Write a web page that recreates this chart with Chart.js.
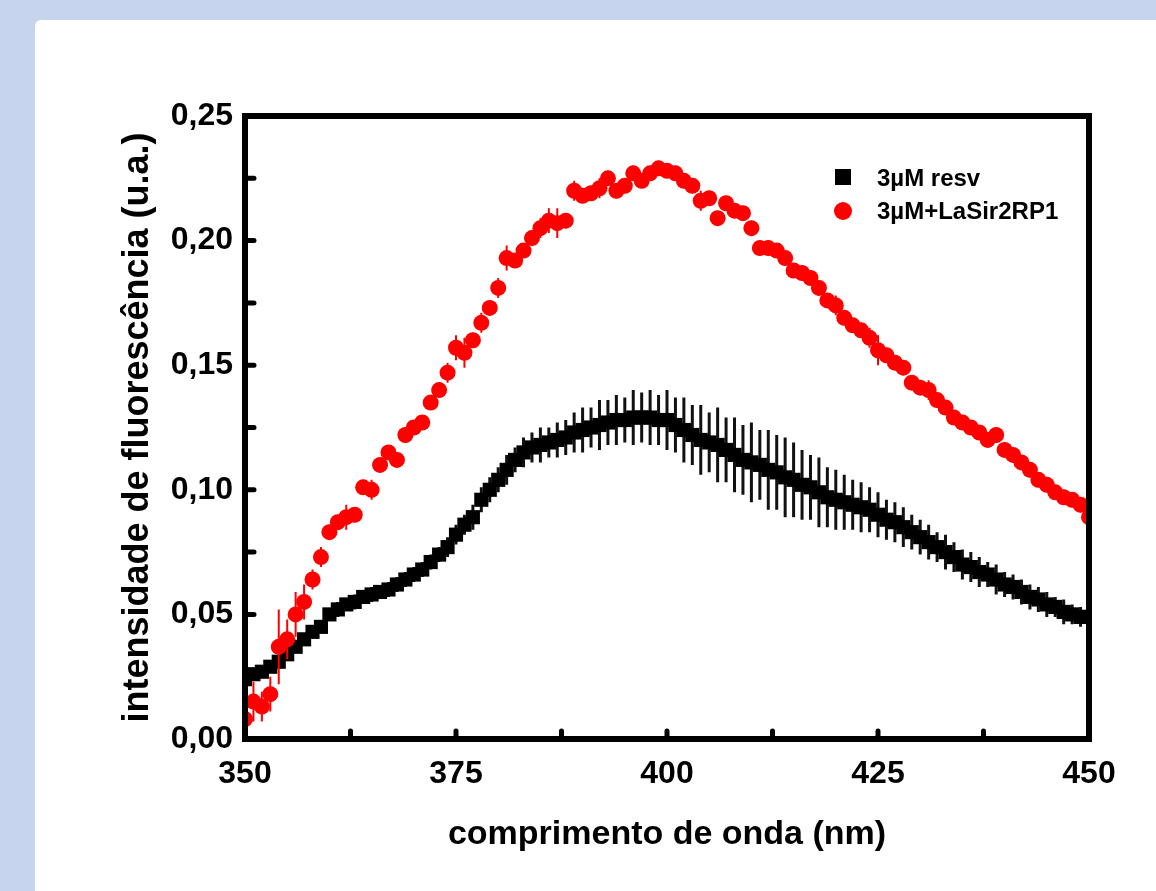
<!DOCTYPE html>
<html>
<head>
<meta charset="utf-8">
<script src="https://cdn.jsdelivr.net/npm/chart.js@4/dist/chart.umd.min.js"></script>
<style>
  html, body { margin: 0; padding: 0; }
  body { width: 1156px; height: 891px; background: #c6d4ed; position: relative; overflow: hidden; }
  #panel { position: absolute; left: 35px; top: 20px; width: 1130px; height: 880px; background: #fff; border-radius: 6px; }
  #chart { position: absolute; left: 0; top: 0; }
</style>
</head>
<body>
<div id="panel"></div>
<canvas id="chart" width="1156" height="891"></canvas>
<script>
// wavelength (nm), one reading per nm
const wavelengths = [
  350, 351, 352, 353, 354, 355, 356, 357, 358, 359,
  360, 361, 362, 363, 364, 365, 366, 367, 368, 369,
  370, 371, 372, 373, 374, 375, 376, 377, 378, 379,
  380, 381, 382, 383, 384, 385, 386, 387, 388, 389,
  390, 391, 392, 393, 394, 395, 396, 397, 398, 399,
  400, 401, 402, 403, 404, 405, 406, 407, 408, 409,
  410, 411, 412, 413, 414, 415, 416, 417, 418, 419,
  420, 421, 422, 423, 424, 425, 426, 427, 428, 429,
  430, 431, 432, 433, 434, 435, 436, 437, 438, 439,
  440, 441, 442, 443, 444, 445, 446, 447, 448, 449,
  450
]

// 3µM resv
const resv = [
  0.024, 0.026, 0.027, 0.029, 0.031, 0.034, 0.037, 0.040, 0.043, 0.045,
  0.050, 0.052, 0.054, 0.055, 0.057, 0.058, 0.059, 0.060, 0.062, 0.064,
  0.066, 0.068, 0.071, 0.074, 0.077, 0.082, 0.086, 0.089, 0.096, 0.100,
  0.104, 0.108, 0.112, 0.115, 0.117, 0.118, 0.119, 0.120, 0.121, 0.123,
  0.124, 0.125, 0.126, 0.127, 0.128, 0.128, 0.129, 0.129, 0.129, 0.128,
  0.128, 0.126, 0.124, 0.122, 0.120, 0.119, 0.118, 0.116, 0.114, 0.112,
  0.111, 0.110, 0.108, 0.107, 0.105, 0.104, 0.102, 0.101, 0.099, 0.097,
  0.096, 0.095, 0.094, 0.093, 0.092, 0.090, 0.088, 0.087, 0.085, 0.083,
  0.081, 0.079, 0.077, 0.075, 0.073, 0.070, 0.069, 0.067, 0.066, 0.064,
  0.062, 0.061, 0.059, 0.057, 0.056, 0.054, 0.053, 0.051, 0.050, 0.049,
  0.049
]
const resvErr = [
  0.002, 0.002, 0.002, 0.002, 0.002, 0.002, 0.002, 0.002, 0.002, 0.002,
  0.002, 0.003, 0.002, 0.003, 0.002, 0.003, 0.002, 0.003, 0.003, 0.003,
  0.003, 0.003, 0.003, 0.003, 0.004, 0.004, 0.004, 0.005, 0.005, 0.005,
  0.005, 0.006, 0.005, 0.006, 0.006, 0.007, 0.006, 0.007, 0.007, 0.008,
  0.009, 0.008, 0.010, 0.009, 0.010, 0.009, 0.011, 0.010, 0.011, 0.010,
  0.012, 0.011, 0.013, 0.012, 0.014, 0.012, 0.015, 0.013, 0.015, 0.014,
  0.016, 0.014, 0.016, 0.015, 0.016, 0.015, 0.014, 0.013, 0.014, 0.012,
  0.012, 0.011, 0.010, 0.010, 0.009, 0.009, 0.008, 0.008, 0.008, 0.007,
  0.007, 0.007, 0.006, 0.007, 0.006, 0.006, 0.006, 0.006, 0.005, 0.006,
  0.005, 0.005, 0.005, 0.005, 0.005, 0.005, 0.004, 0.005, 0.004, 0.004,
  0.004
]

// 3µM+LaSir2RP1
const resvSir = [
  0.008, 0.015, 0.013, 0.018, 0.037, 0.040, 0.050, 0.055, 0.064, 0.073,
  0.083, 0.087, 0.089, 0.090, 0.101, 0.100, 0.110, 0.115, 0.112, 0.122,
  0.125, 0.127, 0.135, 0.140, 0.147, 0.157, 0.155, 0.160, 0.167, 0.173,
  0.181, 0.193, 0.192, 0.196, 0.201, 0.205, 0.208, 0.207, 0.208, 0.220,
  0.218, 0.219, 0.221, 0.225, 0.220, 0.222, 0.227, 0.224, 0.227, 0.229,
  0.228, 0.227, 0.224, 0.222, 0.216, 0.217, 0.209, 0.215, 0.212, 0.211,
  0.205, 0.197, 0.197, 0.196, 0.193, 0.188, 0.187, 0.185, 0.181, 0.176,
  0.174, 0.169, 0.166, 0.164, 0.161, 0.156, 0.154, 0.151, 0.149, 0.143,
  0.141, 0.140, 0.136, 0.133, 0.129, 0.127, 0.125, 0.123, 0.120, 0.122,
  0.116, 0.114, 0.111, 0.108, 0.104, 0.102, 0.099, 0.097, 0.096, 0.094,
  0.089
]
const resvSirErr = [
  0.010, 0.008, 0.006, 0.007, 0.015, 0.008, 0.009, 0.007, 0.004, 0.004,
  0.003, 0.003, 0.005, 0.003, 0.003, 0.004, 0.003, 0.003, 0.003, 0.003,
  0.003, 0.003, 0.003, 0.003, 0.004, 0.005, 0.006, 0.003, 0.004, 0.003,
  0.004, 0.005, 0.003, 0.003, 0.003, 0.004, 0.005, 0.006, 0.003, 0.004,
  0.003, 0.003, 0.004, 0.003, 0.003, 0.003, 0.003, 0.003, 0.003, 0.003,
  0.003, 0.003, 0.003, 0.003, 0.004, 0.003, 0.003, 0.003, 0.003, 0.003,
  0.003, 0.003, 0.003, 0.003, 0.003, 0.003, 0.003, 0.003, 0.003, 0.003,
  0.004, 0.003, 0.003, 0.003, 0.004, 0.006, 0.003, 0.003, 0.003, 0.003,
  0.003, 0.004, 0.003, 0.003, 0.003, 0.003, 0.003, 0.003, 0.003, 0.003,
  0.003, 0.003, 0.003, 0.003, 0.003, 0.003, 0.003, 0.003, 0.003, 0.003,
  0.004
]

const seriesLabels = ['3µM resv', '3µM+LaSir2RP1']
const xTicks = [350, 375, 400, 425, 450]
const yTicks = [0, 0.05, 0.10, 0.15, 0.20, 0.25]

const FONT = '"Liberation Sans", Arial, sans-serif'

const toPoints = (ys) => ys.map((y, i) => ({ x: wavelengths[i], y: y }))

// vertical error bars, drawn just before each dataset's markers
const errorBars = {
  id: 'errorBars',
  beforeDatasetDraw(chart, args) {
    const ds = chart.data.datasets[args.index]
    if (!ds.errors) return
    const { ctx, chartArea } = chart
    const xs = chart.scales.x
    const ys = chart.scales.y
    ctx.save()
    ctx.beginPath()
    ctx.rect(chartArea.left, chartArea.top, chartArea.right - chartArea.left, chartArea.bottom - chartArea.top)
    ctx.clip()
    ctx.strokeStyle = ds.errorColor
    ctx.lineWidth = ds.errorWidth
    ctx.beginPath()
    ds.data.forEach((p, i) => {
      const e = ds.errors[i]
      const px = xs.getPixelForValue(p.x)
      ctx.moveTo(px, ys.getPixelForValue(p.y + e))
      ctx.lineTo(px, ys.getPixelForValue(p.y - e))
    })
    ctx.stroke()
    ctx.restore()
  }
}

// Origin-style frame with inward ticks, plus legend in the corner
const frame = {
  id: 'frame',
  afterDraw(chart) {
    const { ctx, chartArea } = chart
    const { left, right, top, bottom } = chartArea
    const xs = chart.scales.x
    const ys = chart.scales.y
    ctx.save()
    ctx.strokeStyle = '#000'
    ctx.lineWidth = 6
    ctx.strokeRect(left, top, right - left, bottom - top)

    ctx.lineWidth = 5
    ctx.lineCap = 'round'
    ctx.beginPath()
    for (let v = 0.025; v < 0.25; v += 0.025) {
      const py = ys.getPixelForValue(v)
      ctx.moveTo(left, py)
      ctx.lineTo(left + 9, py)
    }
    for (let v = 362.5; v < 450; v += 12.5) {
      const px = xs.getPixelForValue(v)
      ctx.moveTo(px, bottom)
      ctx.lineTo(px, bottom - 8)
    }
    ctx.stroke()

    // legend
    const lx = 843
    ctx.fillStyle = '#000'
    ctx.fillRect(lx - 8, 169, 16, 16)
    ctx.fillStyle = '#ff0000'
    ctx.beginPath()
    ctx.arc(lx, 211, 9, 0, Math.PI * 2)
    ctx.fill()
    ctx.fillStyle = '#000'
    ctx.font = 'bold 24px ' + FONT
    ctx.textBaseline = 'middle'
    ctx.textAlign = 'left'
    ctx.fillText(seriesLabels[0], 877, 179)
    ctx.fillText(seriesLabels[1], 877, 212)
    ctx.restore()
  }
}

new Chart(document.getElementById('chart'), {
  type: 'scatter',
  data: {
    datasets: [
      {
        label: seriesLabels[0],
        data: toPoints(resv),
        errors: resvErr,
        errorColor: '#111',
        errorWidth: 3,
        pointStyle: 'rect',
        pointRadius: 10,
        backgroundColor: '#000',
        borderWidth: 0,
        order: 2
      },
      {
        label: seriesLabels[1],
        data: toPoints(resvSir),
        errors: resvSirErr,
        errorColor: '#ff0000',
        errorWidth: 2,
        pointStyle: 'circle',
        pointRadius: 8,
        backgroundColor: '#ff0000',
        borderWidth: 0,
        order: 1
      }
    ]
  },
  options: {
    responsive: false,
    animation: false,
    layout: { padding: { left: 0, top: 116, right: 67, bottom: 0 } },
    plugins: {
      legend: { display: false },
      tooltip: { enabled: false }
    },
    scales: {
      x: {
        type: 'linear',
        min: 350,
        max: 450,
        afterFit: (s) => { s.height = 152 },
        afterBuildTicks: (s) => { s.ticks = xTicks.map(v => ({ value: v })) },
        grid: { display: false, drawTicks: false },
        border: { display: false },
        ticks: {
          padding: 16,
          color: '#000',
          font: { family: FONT, size: 32, weight: 'bold' }
        },
        title: {
          display: true,
          text: 'comprimento de onda (nm)',
          color: '#000',
          font: { family: FONT, size: 34, weight: 'bold' },
          padding: { top: 0, bottom: 36 }
        }
      },
      y: {
        min: 0,
        max: 0.25,
        afterFit: (s) => { s.width = 245 },
        afterBuildTicks: (s) => { s.ticks = yTicks.map(v => ({ value: v })) },
        grid: { display: false, drawTicks: false },
        border: { display: false },
        ticks: {
          padding: 12,
          color: '#000',
          font: { family: FONT, size: 32, weight: 'bold' },
          callback: (v) => v.toFixed(2).replace('.', ',')
        },
        title: {
          display: true,
          text: 'intensidade de fluorescência (u.a.)',
          color: '#000',
          font: { family: FONT, size: 36, weight: 'bold' },
          padding: { top: 116, bottom: 0 }
        }
      }
    }
  },
  plugins: [errorBars, frame]
})
</script>
</body>
</html>
